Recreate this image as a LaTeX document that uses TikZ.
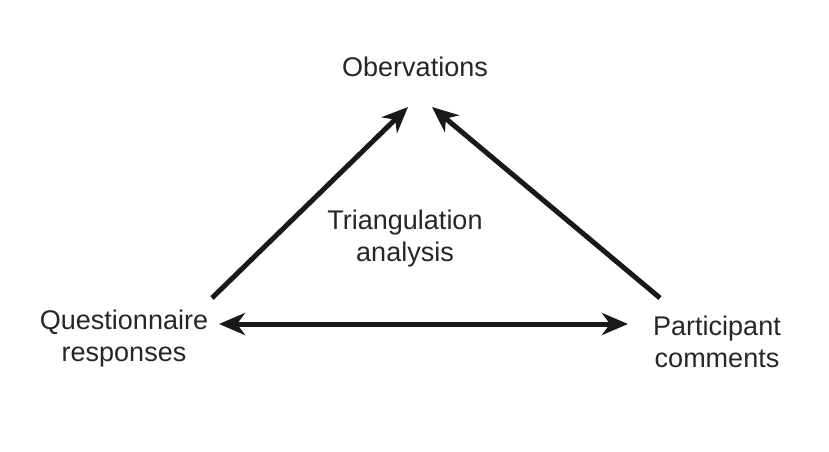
\documentclass[tikz,border=0pt]{standalone}
\usepackage{fontspec}
\setmainfont{Liberation Sans}
\usetikzlibrary{arrows.meta}
\begin{document}
\begin{tikzpicture}[x=1pt,y=-1pt,
  lbl/.style={align=center,inner sep=0pt,font=\fontsize{27}{32}\selectfont,text=black!85},
  link/.style={line width=5pt,color=black!90,-{Stealth[length=26pt,width=22pt,inset=8pt]}},
  link2/.style={line width=5pt,color=black!90,{Stealth[length=26pt,width=22pt,inset=8pt]}-{Stealth[length=26pt,width=22pt,inset=8pt]}}]
\useasboundingbox (0,0) rectangle (829,451);
\node[lbl] (obs) at (415,67) {Obervations};
\node[lbl] (tri) at (405,239) {Triangulation\\analysis};
\node[lbl] (que) at (124,339) {Questionnaire\\responses};
\node[lbl] (par) at (717,342) {Participant\\comments};
% arrow end points
\coordinate (qTop) at (212,298);
\coordinate (pTop) at (660,298);
\coordinate (oL) at (408,107);
\coordinate (oR) at (432,107);
\coordinate (qR) at (219,324);
\coordinate (pL) at (628,324);
\draw[link] (qTop) -- (oL);
\draw[link] (pTop) -- (oR);
\draw[link2] (qR) -- (pL);
\end{tikzpicture}
\end{document}
